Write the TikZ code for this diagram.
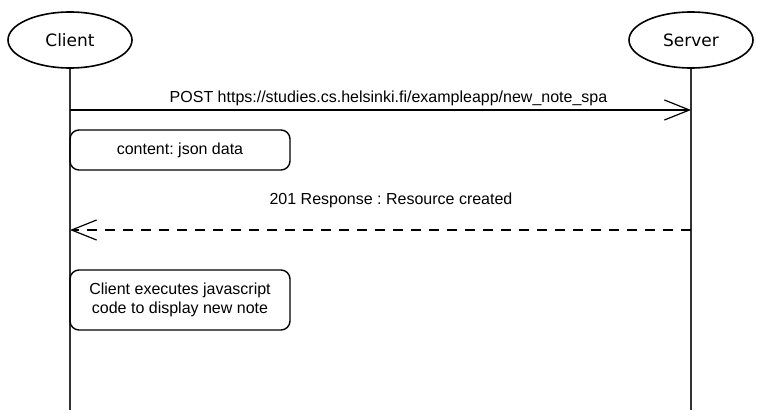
\documentclass[tikz,border=0pt]{standalone}
\usepackage{fontspec}
\setmainfont{Liberation Sans}
\newfontfamily\handfont{DejaVu Sans}
\frenchspacing
\usetikzlibrary{shapes.geometric}
\usetikzlibrary{arrows.meta}
\begin{document}
\begin{tikzpicture}[x=1pt, y=-1pt, font=\fontsize{16}{19}\selectfont,
  actor/.style={ellipse, draw, line width=1.6pt, minimum width=124pt, minimum height=56pt, font=\handfont\fontsize{17}{20}\selectfont},
  lifeline/.style={draw=black!80, line width=2pt},
  msg/.style={line width=1.2pt, -{Straight Barb[length=25pt, width=20pt, line width=1.2pt]}},
  note/.style={draw, rounded corners=9pt, line width=1.4pt, align=center, inner sep=0pt}]
  \useasboundingbox (0,0) rectangle (760,420);
  \node[actor](client) at (70,40){Client};
  \node[actor](server) at (691,40){Server};
  \coordinate (cend) at (70,410);
  \coordinate (send) at (691,410);
  \draw[lifeline] (client.south) -- (cend);
  \draw[lifeline] (server.south) -- (send);
  \coordinate (post1) at (70,110);
  \coordinate (post2) at (691,110);
  \draw[msg] (post1) -- node[above=0pt, xshift=8pt]{POST https://studies.cs.helsinki.fi/exampleapp/new\_note\_spa} (post2);
  \node[note, minimum width=220pt, minimum height=40pt](payload) at (180,150){content: json data};
  \coordinate (resp1) at (691,230);
  \coordinate (resp2) at (70,230);
  \draw[msg, dash pattern=on 10pt off 8pt] (resp1) -- (resp2);
  \node(resplabel) at (391,200){201 Response : Resource created};
  \node[note, minimum width=220pt, minimum height=60pt](render) at (180,300){Client executes javascript\\ code to display new note};
\end{tikzpicture}
\end{document}
